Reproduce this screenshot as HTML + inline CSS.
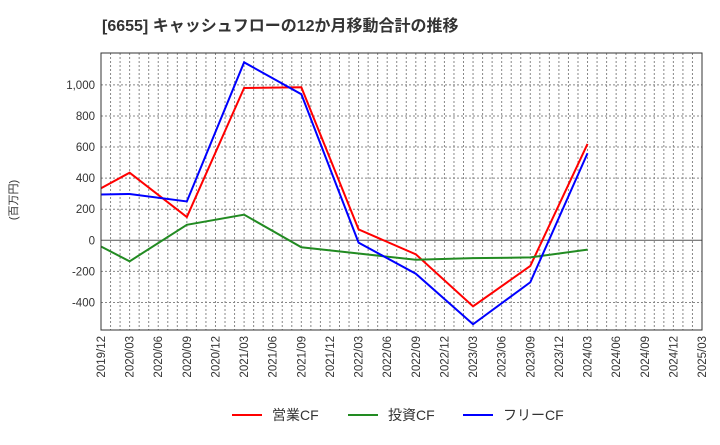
<!DOCTYPE html>
<html><head><meta charset="utf-8"><style>
body{margin:0;background:#fff}
svg text{font-family:"Liberation Sans","Noto Sans CJK JP",sans-serif}
</style></head><body>
<svg id="c" width="720" height="440" xmlns="http://www.w3.org/2000/svg">
<text x="102" y="31" font-size="16" font-weight="bold" fill="#333">[6655]  キャッシュフローの12か月移動合計の推移</text>
<text transform="translate(17,200) rotate(-90)" font-size="11" fill="#333" text-anchor="middle">(百万円)</text>
<g id="grid"></g><g id="lines"></g><g id="axes"></g>
<g>
<line x1="232" y1="415" x2="262" y2="415" stroke="#f00" stroke-width="2"/><text x="272" y="420" font-size="14" fill="#333">営業CF</text>
<line x1="348" y1="415" x2="378" y2="415" stroke="#228b22" stroke-width="2"/><text x="388" y="420" font-size="14" fill="#333">投資CF</text>
<line x1="463" y1="415" x2="493" y2="415" stroke="#00f" stroke-width="2"/><text x="503" y="420" font-size="14" fill="#333">フリーCF</text>
</g>
</svg>
<script>
const xLabels=["2019/12","2020/03","2020/06","2020/09","2020/12","2021/03","2021/06","2021/09","2021/12","2022/03","2022/06","2022/09","2022/12","2023/03","2023/06","2023/09","2023/12","2024/03","2024/06","2024/09","2024/12","2025/03"];
const yTicks=[-400,-200,0,200,400,600,800,1000];
const dataIdx=[0,1,3,5,7,9,11,13,15,17];
const operatingCF=[335,435,150,980,985,70,-90,-425,-165,620];
const investingCF=[-40,-135,100,165,-45,-85,-125,-115,-110,-60];
const freeCF=[295,298,250,1145,940,-15,-215,-540,-270,560];
const L=101,R=702,T=53,B=330,yMax=1205,yMin=-577;
const xs=i=>L+(R-L)*i/(xLabels.length-1);
const ys=v=>T+(yMax-v)/(yMax-yMin)*(B-T);
const ns="http://www.w3.org/2000/svg";
function mk(p,t,a){const e=document.createElementNS(ns,t);for(const k in a)e.setAttribute(k,a[k]);p.appendChild(e);return e;}
const g=document.getElementById('grid'),ax=document.getElementById('axes'),ln=document.getElementById('lines');
mk(g,'rect',{x:L,y:T,width:R-L,height:B-T,fill:'#fff',stroke:'none'});
for(let m=1;m<(xLabels.length-1)*3;m++){const x=L+(R-L)*m/((xLabels.length-1)*3);
const e=mk(g,'line',{x1:x,y1:T,x2:x,y2:B,stroke:'#888','stroke-width':1,'stroke-dasharray':'2,2'});
}
yTicks.forEach(v=>{const y=ys(v);
const e=mk(g,'line',{x1:L,y1:y,x2:R,y2:y,stroke:v===0?'#555':'#888','stroke-width':1,'stroke-dasharray':v===0?'none':'2,2'});

const t=mk(ax,'text',{x:L-6,y:y+4,'font-size':11.5,fill:'#333','text-anchor':'end'});t.textContent=v.toLocaleString('en-US');
});
xLabels.forEach((s,i)=>{const x=xs(i);
const t=mk(ax,'text',{transform:`translate(${x+4},${B+6}) rotate(-90)`,'font-size':11.5,fill:'#333','text-anchor':'end'});t.textContent=s;
});
const fr=mk(ax,'rect',{x:L,y:T,width:R-L,height:B-T,fill:'none',stroke:'#333','stroke-width':1});

[[operatingCF,'#f00','operating-cf-line'],[investingCF,'#228b22','investing-cf-line'],[freeCF,'#00f','free-cf-line']].forEach(([d,c,n])=>{
const p=mk(ln,'polyline',{points:d.map((v,k)=>xs(dataIdx[k])+','+ys(v)).join(' '),fill:'none',stroke:c,'stroke-width':2});
});
</script>
</body></html>
